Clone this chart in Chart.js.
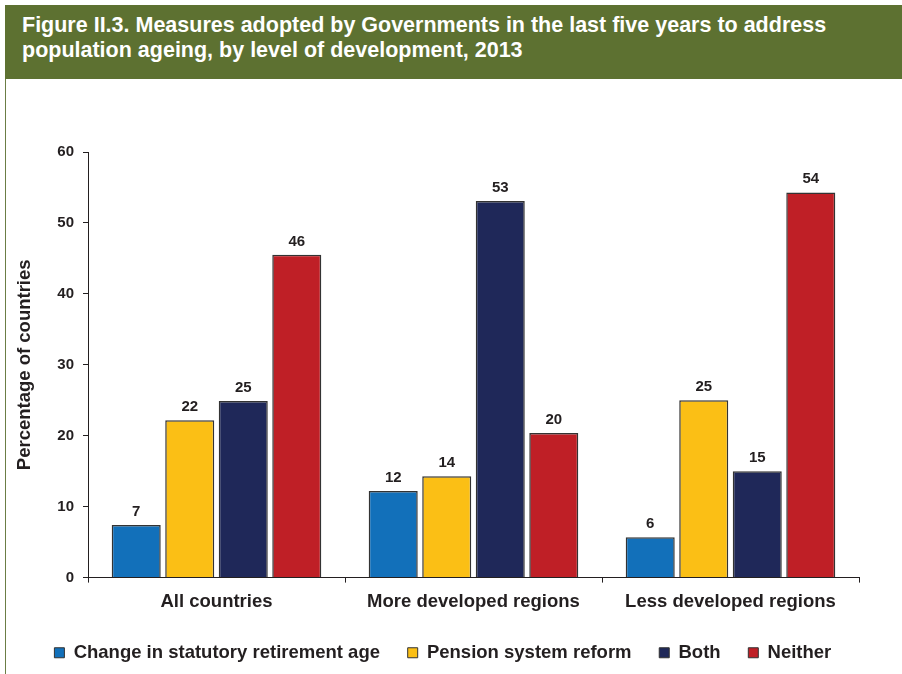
<!DOCTYPE html>
<html>
<head>
<meta charset="utf-8">
<script src="https://cdn.jsdelivr.net/npm/chart.js@4"></script>
<style>
  html, body { margin: 0; padding: 0; background: #ffffff; }
  body { width: 902px; height: 674px; position: relative; overflow: hidden; font-family: "Liberation Sans", Arial, sans-serif; }
  #banner {
    position: absolute; left: 5px; top: 5px; width: 897px; height: 74px;
    background: #5d7131; color: #ffffff; font-weight: bold; font-size: 21.5px;
    line-height: 25px; box-sizing: border-box; padding: 8px 0 0 17px; white-space: nowrap;
  }
  #frame { position: absolute; left: 5px; top: 79px; width: 1px; height: 595px; background: #6b7d45; }
  #wrap { position: absolute; left: 0; top: 0; width: 902px; height: 674px; }
</style>
</head>
<body>
<div id="wrap"><canvas id="chart"></canvas></div>
<div id="frame"></div>
<div id="banner">Figure II.3. Measures adopted by Governments in the last five years to address<br>population ageing, by level of development, 2013</div>
<script>
// Regions of development
const categories = ['All countries', 'More developed regions', 'Less developed regions'];

// Share of countries (%) by type of measure adopted
const retirementAge = [7.4, 12.2, 5.7];
const pensionReform = [22.2, 14.3, 25.0];
const bothMeasures = [24.9, 53.1, 15.0];
const neitherMeasure = [45.5, 20.4, 54.3];

const seriesNames = ['Change in statutory retirement age', 'Pension system reform', 'Both', 'Neither'];
const seriesColors = ['#1270ba', '#fbbf15', '#1f2859', '#bf1f26'];

const yTicks = [0, 10, 20, 30, 40, 50, 60];

const ink = '#231f20';
const edge = '#333333';
const family = '"Liberation Sans", Arial, sans-serif';

// Rounded value printed above every bar
const valueLabels = {
  id: 'valueLabels',
  afterDatasetsDraw(chart) {
    const ctx = chart.ctx;
    ctx.save();
    ctx.font = 'bold 15px ' + family;
    ctx.fillStyle = ink;
    ctx.textAlign = 'center';
    ctx.textBaseline = 'alphabetic';
    chart.data.datasets.forEach((ds, i) => {
      chart.getDatasetMeta(i).data.forEach((bar, j) => {
        ctx.fillText(String(Math.round(ds.data[j])), bar.x, bar.y - 9);
      });
    });
    ctx.restore();
  }
};

const seriesData = [retirementAge, pensionReform, bothMeasures, neitherMeasure];

new Chart(document.getElementById('chart'), {
  type: 'bar',
  data: {
    labels: categories,
    datasets: seriesNames.map((name, i) => ({
      label: name,
      data: seriesData[i],
      backgroundColor: seriesColors[i],
      borderColor: edge,
      borderWidth: 1.5,
      categoryPercentage: 0.833,
      barPercentage: 0.916
    }))
  },
  options: {
    responsive: true,
    maintainAspectRatio: false,
    animation: false,
    layout: { padding: { top: 152, right: 43, left: 0, bottom: 2 } },
    plugins: {
      tooltip: { enabled: false },
      legend: {
        position: 'bottom',
        align: 'end',
        labels: {
          color: ink,
          font: { family: family, size: 18.5, weight: 'bold' },
          boxWidth: 10,
          boxHeight: 10,
          padding: 27.7,
          generateLabels(chart) {
            return chart.data.datasets.map((ds, i) => ({
              text: ds.label,
              fillStyle: ds.backgroundColor,
              strokeStyle: edge,
              lineWidth: 1,
              fontColor: ink,
              datasetIndex: i,
              hidden: false
            }));
          }
        }
      }
    },
    scales: {
      x: {
        afterFit(scale) { scale.height -= 5; },
        grid: { display: true, drawOnChartArea: false, drawTicks: true, tickLength: 5, color: ink, offset: true },
        border: { display: true, color: ink, width: 1 },
        ticks: {
          color: ink,
          padding: 8,
          font: { family: family, size: 18.5, weight: 'bold' }
        }
      },
      y: {
        min: 0,
        max: 60,
        afterBuildTicks(scale) { scale.ticks = yTicks.map(v => ({ value: v })); },
        afterFit(scale) { scale.width = 88; },
        grid: { display: true, drawOnChartArea: false, drawTicks: true, tickLength: 5, color: ink },
        border: { display: true, color: ink, width: 1 },
        ticks: {
          color: ink,
          padding: 9,
          font: { family: family, size: 15, weight: 'bold' }
        },
        title: {
          display: true,
          text: 'Percentage of countries',
          color: ink,
          padding: { top: 14, bottom: 0 },
          font: { family: family, size: 18.5, weight: 'bold' }
        }
      }
    }
  },
  plugins: [valueLabels]
});
</script>
</body>
</html>
